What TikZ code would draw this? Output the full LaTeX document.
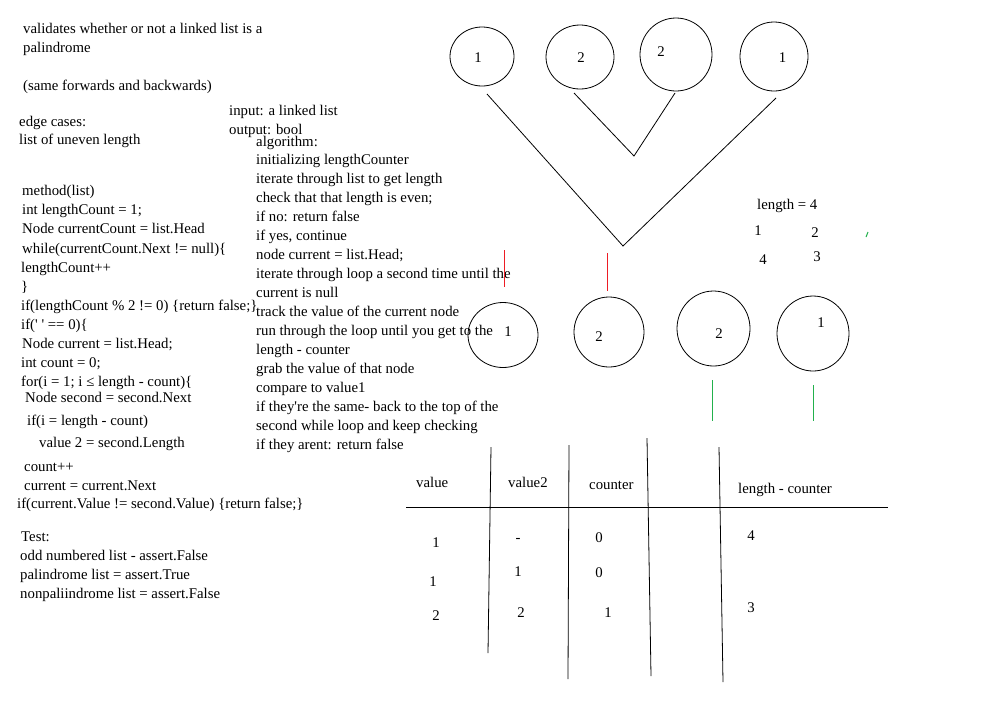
\documentclass[tikz,border=0pt]{standalone}
\usepackage{fontspec}
\setmainfont{Liberation Serif}
\usetikzlibrary{shapes.geometric}
\definecolor{pred}{RGB}{237,28,36}
\definecolor{pgreen}{RGB}{34,177,76}
\tikzset{
  txt/.style={anchor=base west, inner sep=0pt, font=\fontsize{14.8}{17}\selectfont},
  num/.style={anchor=center, inner sep=0pt, font=\fontsize{14.8}{17}\selectfont},
  ink/.style={draw=black, line width=0.8pt},
  redmark/.style={draw=pred, line width=1pt},
  greenmark/.style={draw=pgreen, line width=1pt},
  bubble/.style={draw=black, line width=0.8pt, ellipse, inner sep=0pt},
}
\begin{document}
\begin{tikzpicture}[x=1pt,y=-1pt]
\useasboundingbox[fill=white] (0,0) rectangle (995,721);

% --- top-left description
\node[txt] (d1) at (23,33.5) {validates whether or not a linked list is a};
\node[txt] (d2) at (23,52.5) {palindrome};
\node[txt] (d3) at (23,90.5) {(same forwards and backwards)};
\node[txt] (e1) at (19,126.5) {edge cases:};
\node[txt] (e2) at (19,144.5) {list of uneven length};
\node[txt] (io1) at (229,115.5) {input: a linked list};
\node[txt] (io2) at (229,134.5) {output: bool};

% --- algorithm
\node[txt] (a0) at (256,146.5) {algorithm:};
\node[txt] (a1) at (256,164.5) {initializing lengthCounter};
\node[txt] (a2) at (256,183.5) {iterate through list to get length};
\node[txt] (a3) at (256,202.5) {check that that length is even;};
\node[txt] (a4) at (256,221.5) {if no: return false};
\node[txt] (a5) at (256,240.5) {if yes, continue};
\node[txt] (a6) at (256,259.5) {node current = list.Head;};
\node[txt] (a7) at (256,278.5) {iterate through loop a second time until the};
\node[txt] (a8) at (256,297.5) {current is null};
\node[txt] (a9) at (256,316.5) {track the value of the current node};
\node[txt] (a10) at (256,335.5) {run through the loop until you get to the};
\node[txt] (a11) at (256,354.5) {length - counter};
\node[txt] (a12) at (256,373.5) {grab the value of that node};
\node[txt] (a13) at (256,392.5) {compare to value1};
\node[txt] (a14) at (256,411.5) {if they\textquotesingle re the same- back to the top of the};
\node[txt] (a15) at (256,430.5) {second while loop and keep checking};
\node[txt] (a16) at (256,449.5) {if they arent: return false};

% --- code
\node[txt] (k1) at (22,195.5) {method(list)};
\node[txt] (k2) at (22,214) {int lengthCount = 1;};
\node[txt] (k3) at (22,233.5) {Node currentCount = list.Head};
\node[txt] (k4) at (22,253.5) {while(currentCount.Next != null)\{};
\node[txt] (k5) at (21,272.5) {lengthCount++};
\node[txt] (k6) at (21,291.5) {\}};
\node[txt] (k7) at (21,310.5) {if(lengthCount \% 2 != 0) \{return false;\}};
\node[txt] (k8) at (21,329.5) {if(\textquotesingle\ \textquotesingle\ == 0)\{};
\node[txt] (k9) at (22,348.5) {Node current = list.Head;};
\node[txt] (k10) at (21,367.5) {int count = 0;};
\node[txt] (k11) at (21,386.5) {for(i = 1; i ≤ length - count)\{};
\node[txt] (k12) at (25,402.5) {Node second = second.Next};
\node[txt] (k13) at (27,425.5) {if(i = length - count)};
\node[txt] (k14) at (39,447.5) {value 2 = second.Length};
\node[txt] (k15) at (24,471.5) {count++};
\node[txt] (k16) at (24,490.5) {current = current.Next};
\node[txt] (k17) at (17,508.5) {if(current.Value != second.Value) \{return false;\}};

% --- tests
\node[txt] (s1) at (21,541.5) {Test:};
\node[txt] (s2) at (20,560.5) {odd numbered list - assert.False};
\node[txt] (s3) at (20,579.5) {palindrome list = assert.True};
\node[txt] (s4) at (20,598.5) {nonpaliindrome list = assert.False};

% --- top circles
\node[bubble, minimum width=64pt, minimum height=59pt] (c1) at (482,56.5) {};
\node[bubble, minimum width=68pt, minimum height=64pt] (c2) at (580,57) {};
\node[bubble, minimum width=72pt, minimum height=73pt] (c3) at (676,54.5) {};
\node[bubble, minimum width=68pt, minimum height=69pt] (c4) at (774,56.5) {};
\node[num] (c1t) at (478,58) {1};
\node[num] (c2t) at (581,58) {2};
\node[num] (c3t) at (661,52) {2};
\node[num] (c4t) at (782.5,58) {1};

% --- tree lines
\coordinate (bl) at (487,94);
\coordinate (bv) at (623,246);
\coordinate (br) at (776,98);
\coordinate (sl) at (574,93);
\coordinate (sv) at (634,156);
\coordinate (sr) at (675,93);
\draw[ink] (bl) -- (bv) -- (br);
\draw[ink] (sl) -- (sv) -- (sr);

% --- length info
\node[txt] (len) at (757,209.5) {length = 4};
\node[num] (m1) at (758,231) {1};
\node[num] (m2) at (815,233) {2};
\node[num] (m4) at (763,260) {4};
\node[num] (m3) at (817,257) {3};
\coordinate (g1) at (866,237);
\coordinate (g2) at (868,232);
\draw[greenmark] (g1) -- (g2);

% --- red marks
\coordinate (r1a) at (504,250);
\coordinate (r1b) at (504,287);
\coordinate (r2a) at (607,253);
\coordinate (r2b) at (607,291);
\draw[redmark] (r1a) -- (r1b);
\draw[redmark] (r2a) -- (r2b);

% --- bottom circles
\node[bubble, minimum width=70pt, minimum height=65pt] (b1) at (503,335) {};
\node[bubble, minimum width=70pt, minimum height=70pt] (b2) at (609,332) {};
\node[bubble, minimum width=73pt, minimum height=75pt] (b3) at (713.5,328.5) {};
\node[bubble, minimum width=72pt, minimum height=75pt] (b4) at (813,333.5) {};
\node[num] (b1t) at (508,332) {1};
\node[num] (b2t) at (599,337) {2};
\node[num] (b3t) at (719,334) {2};
\node[num] (b4t) at (821,323) {1};

% --- green marks
\coordinate (ga1) at (712,380);
\coordinate (ga2) at (712,421);
\coordinate (gb1) at (813,385);
\coordinate (gb2) at (813,421);
\draw[greenmark] (ga1) -- (ga2);
\draw[greenmark] (gb1) -- (gb2);

% --- table
\coordinate (h1) at (406,507);
\coordinate (h2) at (888,507);
\draw[ink] (h1) -- (h2);
\coordinate (v1a) at (491,447);
\coordinate (v1b) at (488,653);
\coordinate (v2a) at (569,445);
\coordinate (v2b) at (568,679);
\coordinate (v3a) at (647,438);
\coordinate (v3b) at (651,676);
\coordinate (v4a) at (719,447);
\coordinate (v4b) at (723,682);
\draw[ink] (v1a) -- (v1b);
\draw[ink] (v2a) -- (v2b);
\draw[ink] (v3a) -- (v3b);
\draw[ink] (v4a) -- (v4b);

\node[txt] (th1) at (416,487.5) {value};
\node[txt] (th2) at (508,487.5) {value2};
\node[txt] (th3) at (589,489.5) {counter};
\node[txt] (th4) at (738,493.5) {length - counter};

\node[num] (r11) at (436,543) {1};
\node[num] (r12) at (518,540) {-};
\node[num] (r13) at (599,538) {0};
\node[num] (r14) at (751,536) {4};
\node[num] (r21) at (433,582) {1};
\node[num] (r22) at (518,572) {1};
\node[num] (r23) at (599,573) {0};
\node[num] (r31) at (436,616) {2};
\node[num] (r32) at (521,613) {2};
\node[num] (r33) at (608,613) {1};
\node[num] (r34) at (751,608) {3};
\end{tikzpicture}
\end{document}
